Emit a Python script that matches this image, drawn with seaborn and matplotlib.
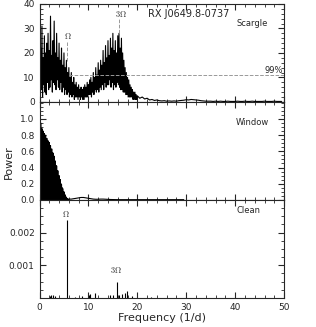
import numpy as np
import pandas as pd
import seaborn as sns
import matplotlib.pyplot as plt
from matplotlib.ticker import MultipleLocator

# Scargle periodogram: peak / dip values (0-20 1/d, step 0.25)
scargle_peaks = [30, 22, 31, 18, 27, 20, 24, 28, 21, 35, 19, 25, 33, 20, 28, 18,
                 24, 17, 22, 15, 20, 14, 17, 12, 14, 10, 12, 8, 10, 7, 8, 6,
                 7, 5, 6, 5, 6, 7, 6, 8, 7, 9, 10, 8, 12, 10, 14, 11,
                 16, 13, 17, 15, 21, 16, 23, 18, 25, 19, 26, 22, 28, 21, 25, 20,
                 27, 28, 22, 26, 20, 17, 14, 12, 10, 9, 7, 6, 5, 4, 4, 3]
scargle_dips = [1, 5, 2, 7, 4, 3, 8, 5, 6, 9, 4, 8, 7, 5, 9, 6,
                5, 8, 4, 6, 3, 5, 3, 4, 2, 3, 2, 3, 1, 2, 2, 1,
                2, 1, 2, 1, 1, 2, 2, 2, 3, 3, 2, 4, 3, 5, 4, 5,
                4, 6, 5, 7, 5, 8, 6, 7, 7, 9, 6, 8, 5, 7, 6, 8,
                7, 6, 5, 5, 4, 4, 3, 3, 2, 2, 2, 2, 1, 1, 1, 1]
# tail 20-50 1/d, step 0.5
scargle_tail = [2.5, 1.5, 2.0, 1.2, 1.5, 0.8, 1.0, 0.6, 0.8, 0.5,
                0.4, 0.5, 0.3, 0.4, 0.3, 0.4, 0.3, 0.5, 0.6, 0.7,
                0.9, 0.8, 1.0, 0.9, 0.8, 0.7, 0.5, 0.4, 0.3, 0.3,
                0.3, 0.2, 0.3, 0.2, 0.3, 0.2, 0.2, 0.3, 0.2, 0.2,
                0.2, 0.3, 0.2, 0.2, 0.3, 0.2, 0.2, 0.3, 0.2, 0.2,
                0.2, 0.2, 0.3, 0.2, 0.2, 0.2, 0.3, 0.2, 0.2, 0.2]

# Window function peaks (0-6 1/d, step 0.125), tail 6-50 step 0.5
window_peaks = [0.97, 0.90, 0.95, 0.86, 0.88, 0.84, 0.85, 0.80,
                0.82, 0.78, 0.80, 0.74, 0.76, 0.72, 0.73, 0.69,
                0.71, 0.66, 0.67, 0.62, 0.63, 0.58, 0.58, 0.53,
                0.54, 0.48, 0.48, 0.42, 0.42, 0.36, 0.36, 0.30,
                0.30, 0.25, 0.25, 0.20, 0.19, 0.15, 0.14, 0.10,
                0.10, 0.07, 0.06, 0.04, 0.03, 0.02, 0.01, 0.01]
window_tail = [0.01, 0.01, 0.015, 0.02, 0.025, 0.03, 0.03, 0.025, 0.02, 0.015,
               0.01, 0.008, 0.008, 0.01, 0.01, 0.008, 0.006, 0.005, 0.004, 0.004,
               0.003, 0.003, 0.003, 0.003, 0.003, 0.003, 0.003, 0.003, 0.003, 0.003,
               0.003, 0.003, 0.003, 0.003, 0.003, 0.003, 0.003, 0.003, 0.003, 0.003,
               0.003, 0.003, 0.003, 0.003, 0.003, 0.003, 0.003, 0.003]

# CLEAN spectrum spikes
clean_freq = [2.1, 2.4, 2.8, 3.1, 5.65, 7.3, 8.6, 10.1, 10.4, 11.3, 14.5, 15.0,
              15.85, 16.3, 16.9, 17.4, 17.9, 18.9, 22.8]
clean_power = [0.00006, 0.00008, 0.0001, 0.00005, 0.00238, 0.00004, 0.00005, 0.0001,
               0.00012, 0.00015, 0.00008, 0.00009, 0.00048, 0.0001, 0.00012, 0.00015,
               0.0002, 0.00005, 0.00003]

OMEGA = 5.65
THREE_OMEGA = 16.27
SIG99 = 11.0

# build the line tables
f_peak = np.arange(len(scargle_peaks)) * 0.25
f_dip = f_peak + 0.125
f_tail = 20 + np.arange(len(scargle_tail)) * 0.5
sc = pd.DataFrame({'freq': np.concatenate([np.ravel(np.column_stack([f_peak, f_dip])), f_tail]),
                   'power': np.concatenate([np.ravel(np.column_stack([scargle_peaks, scargle_dips])), scargle_tail])})

w_f = np.arange(len(window_peaks)) * 0.125
w_fd = w_f + 0.0625
w_tail_f = 6 + np.arange(len(window_tail)) * 0.5
wn = pd.DataFrame({'freq': np.concatenate([np.ravel(np.column_stack([w_f, w_fd])), w_tail_f]),
                   'power': np.concatenate([np.ravel(np.column_stack([window_peaks, np.zeros(len(window_peaks))])), window_tail])})

sns.set_style('ticks')
plt.rcParams.update({'xtick.direction': 'in', 'ytick.direction': 'in',
                     'xtick.top': True, 'ytick.right': True,
                     'xtick.minor.visible': True, 'ytick.minor.visible': True,
                     'xtick.major.size': 4, 'ytick.major.size': 4,
                     'xtick.minor.size': 2, 'ytick.minor.size': 2,
                     'xtick.labelsize': 6.5, 'ytick.labelsize': 6.5,
                     'axes.linewidth': 0.8, 'mathtext.fontset': 'cm'})
plt.rcParams['font.family'] = ['DejaVu Sans']

fig, axes = plt.subplots(3, 1, sharex=True, figsize=(3.16, 3.27), dpi=100)
ax1, ax2, ax3 = axes

# Scargle
sns.lineplot(data=sc, x='freq', y='power', ax=ax1, color='black', lw=0.8)
ax1.axhline(SIG99, xmin=(OMEGA + 0.3) / 50, color='#999999', ls='--', lw=0.7)
ax1.vlines(OMEGA, 16.5, 24.5, color='#999999', ls='--', lw=0.7)
ax1.vlines(THREE_OMEGA, 28, 34, color='#999999', ls='--', lw=0.7)
ax1.text(OMEGA + 0.2, 25.5, r'$\Omega$', fontsize=6, ha='center')
ax1.text(THREE_OMEGA + 0.3, 34.6, r'$3\Omega$', fontsize=6, ha='center')
ax1.text(30.6, 34.5, 'RX J0649.8-0737', fontsize=7, ha='center')
ax1.text(40.2, 30.8, 'Scargle', fontsize=6)
ax1.text(49.8, 12, '99%', fontsize=6, ha='right')
ax1.set_ylim(0, 40)
ax1.yaxis.set_major_locator(MultipleLocator(10))
ax1.yaxis.set_minor_locator(MultipleLocator(2))
ax1.set_ylabel('')

# Window
sns.lineplot(data=wn, x='freq', y='power', ax=ax2, color='black', lw=0.8)
ax2.text(40.2, 0.92, 'Window', fontsize=6)
ax2.set_ylim(0, 1.21)
ax2.set_yticks([0.0, 0.2, 0.4, 0.6, 0.8, 1.0])
ax2.yaxis.set_minor_locator(MultipleLocator(0.05))
ax2.set_ylabel('Power', fontsize=8)
ax2.yaxis.set_label_coords(-0.105, 0.39)

# Clean
ax3.vlines(clean_freq, 0, clean_power, color='black', lw=0.8)
ax3.text(OMEGA - 0.3, 0.00248, r'$\Omega$', fontsize=6, ha='center')
ax3.text(15.6, 0.00076, r'$3\Omega$', fontsize=6, ha='center')
ax3.text(40.2, 0.0026, 'Clean', fontsize=6)
ax3.set_ylim(0, 0.003)
ax3.set_yticks([0.001, 0.002])
ax3.yaxis.set_minor_locator(MultipleLocator(0.00025))

for ax in axes:
    ax.set_xlim(0, 50)
    ax.xaxis.set_major_locator(MultipleLocator(10))
    ax.xaxis.set_minor_locator(MultipleLocator(2))
    ax.set_xlabel('')
ax3.set_xlabel('Frequency (1/d)', fontsize=8, labelpad=1)

plt.subplots_adjust(left=0.125, right=0.899, top=0.988, bottom=0.089, hspace=0)
plt.savefig('out.png', dpi=100)
